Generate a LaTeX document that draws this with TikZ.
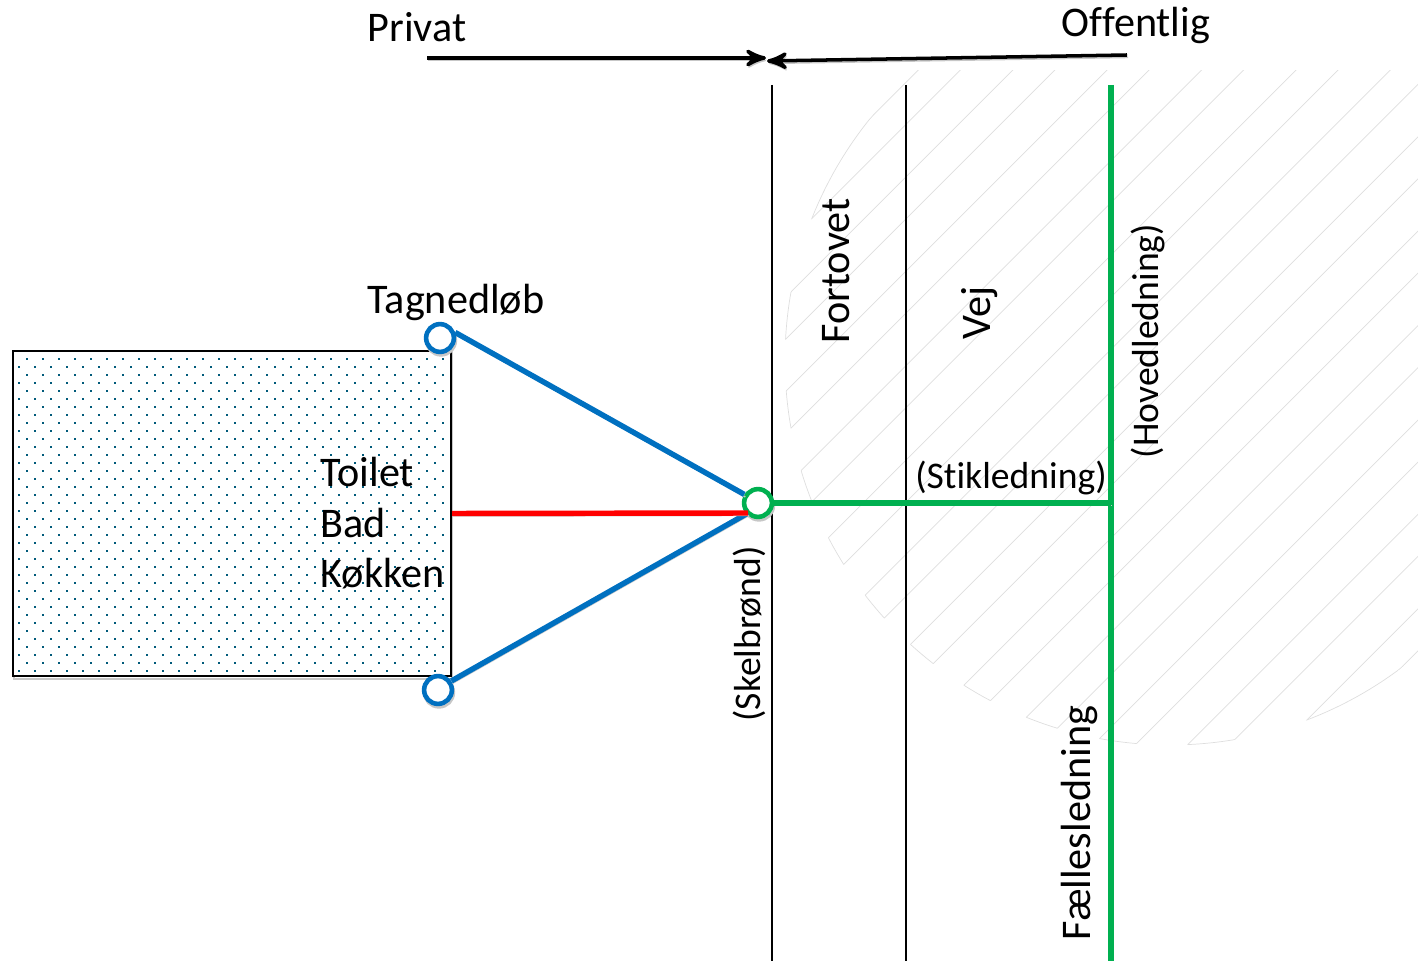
\documentclass[tikz,border=0pt]{standalone}
\usepackage{fontspec}
\setmainfont[Ligatures=NoCommon]{Carlito}
\usetikzlibrary{arrows}
\usetikzlibrary{positioning}
\definecolor{pipegreen}{RGB}{0,176,80}
\definecolor{pipeblue}{RGB}{0,112,192}
\definecolor{dotblue}{RGB}{0,90,122}
\begin{document}
\begin{tikzpicture}[x=0.01cm,y=-0.01cm,>=stealth',
    big label/.style={font=\fontsize{12}{14}\selectfont,inner sep=0pt},
    small label/.style={font=\fontsize{10.7}{13}\selectfont,inner sep=0pt},
    soft shadow/.style={preaction={draw=black!22,transform canvas={xshift=0.01cm,yshift=-0.025cm}}},
    main line/.style={line width=0.8pt,black},
    pipe/.style={line width=1.55pt,soft shadow},
    hatch line/.style={line width=0.2pt,black!13},
    ring node/.style={circle,draw,fill=white,line width=1.3pt,inner sep=0pt,minimum size=7.9pt,soft shadow}]
  \useasboundingbox (0,0) rectangle (1418,961);
  % hatching of the road
  \foreach \k in {1,...,12} {
    \pgfmathsetmacro{\a}{894+94.4*\k}
    \pgfmathsetmacro{\b}{\a+42}
    \begin{scope}
      \clip (700,71) rectangle (1418,961);
      \begin{scope}
        \clip (1170,360) circle (385);
        \draw[hatch line] (\a,0) -- ({\a-1000},1000);
        \draw[hatch line] (\b,0) -- ({\b-1000},1000);
      \end{scope}
      \clip (\a,0) -- (\b,0) -- ({\b-1000},1000) -- ({\a-1000},1000) -- cycle;
      \draw[hatch line] (1170,360) circle (385);
    \end{scope}
  }
  % house
  \node[draw=black,fill=white,line width=0.6pt,inner sep=0pt,minimum width=438*0.2845pt,minimum height=325*0.2845pt,soft shadow] (hus) at (232,513.5) {};
  \foreach \row in {0,...,39} {
    \pgfmathsetmacro{\ypos}{359+8*\row}
    \pgfmathsetmacro{\xstart}{isodd(\row)?19:27}
    \foreach \col in {0,...,26} {
      \fill[dotblue] ({\xstart+16*\col-1},{\ypos-1}) rectangle ++(2,2);
    }
  }
  \node[big label,anchor=west] (toilet) at (320,472) {Toilet};
  \node[big label,anchor=west] (bad) at (320,523) {Bad};
  \node[big label,anchor=west] (kokken) at (320,574) {Køkken};
  % vertical lines
  \coordinate (skel top) at (772,85);
  \coordinate (skel bottom) at (772,961);
  \coordinate (fortov top) at (906,85);
  \coordinate (fortov bottom) at (906,961);
  \coordinate (hoved top) at (1111,85);
  \coordinate (hoved bottom) at (1111,961);
  \coordinate (stik end) at (1111,503);
  \coordinate (red end) at (748,513);
  \draw[main line] (skel top) -- (skel bottom);
  \draw[main line] (fortov top) -- (fortov bottom);
  \draw[pipe,pipegreen] (hoved top) -- (hoved bottom);
  % wells and pipes
  \node[ring node,draw=pipegreen] (skel) at (758,503) {};
  \node[ring node,draw=pipeblue] (tag1) at (440,338) {};
  \node[ring node,draw=pipeblue] (tag2) at (438,690) {};
  \draw[pipe,pipeblue] (tag1.20) -- (skel.148);
  \draw[pipe,pipeblue] (tag2.34) -- (red end);
  \draw[pipe,red] (hus.east) -- (red end);
  \draw[pipe,pipegreen] (skel.east) -- (stik end);
  % top arrows
  \node[big label] (privat) at (417,27) {Privat};
  \node[big label] (offentlig) at (1136,25) {Offentlig};
  \coordinate (privat start) at (427,58);
  \coordinate (privat end) at (766,58);
  \coordinate (offentlig start) at (1127,55);
  \coordinate (offentlig end) at (767,61);
  \draw[->,line width=1pt,soft shadow] (privat start) -- (privat end);
  \draw[->,line width=1pt,soft shadow] (offentlig start) -- (offentlig end);
  % labels
  \node[big label] (tagnedlob) at (456,302) {Tagnedløb};
  \node[big label,rotate=90] (fortovet) at (836,271) {Fortovet};
  \node[big label,rotate=90] (vej) at (980,313) {Vej};
  \node[big label,rotate=90] (faelles) at (1079,823) {Fællesledning};
  \node[small label] (stik) at (1011,478) {(Stikledning)};
  \node[small label,rotate=90] (hoved) at (1148,341) {(Hovedledning)};
  \node[small label,rotate=90] (skelbrond) at (749,634) {(Skelbrønd)};
\end{tikzpicture}
\end{document}
